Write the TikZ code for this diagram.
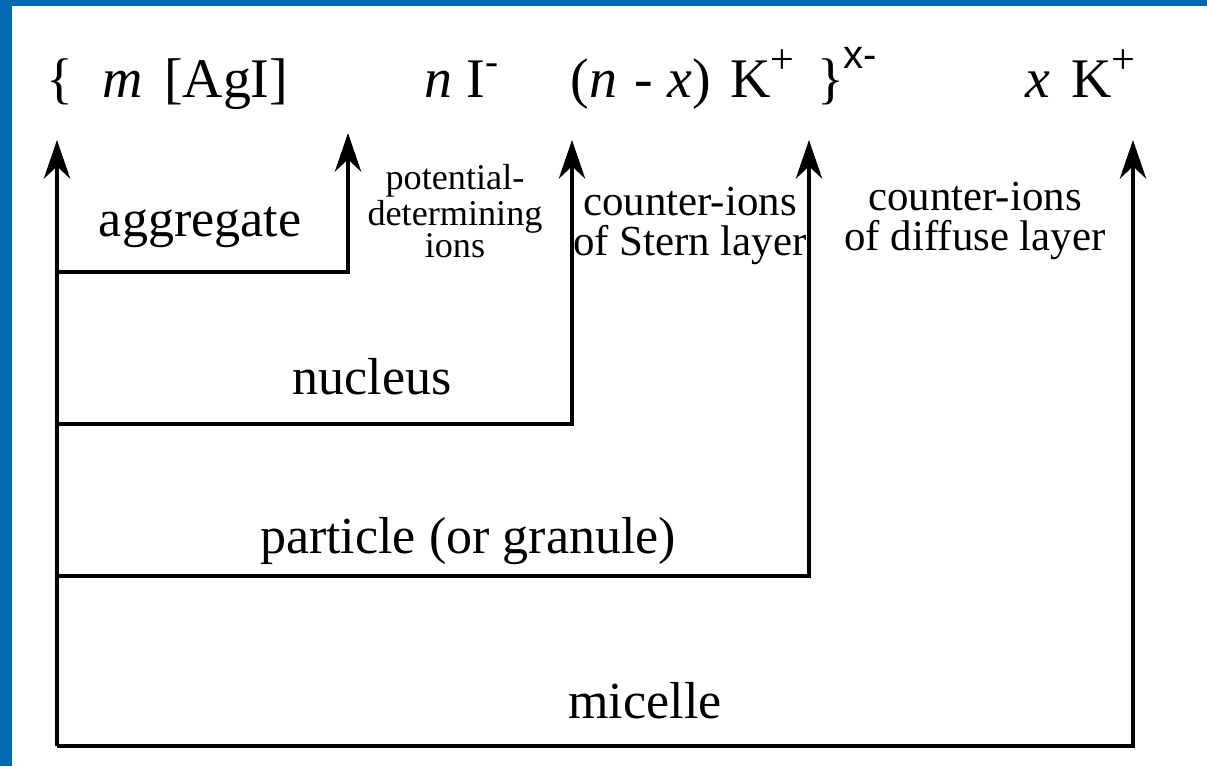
\documentclass[tikz,border=0pt]{standalone}
\usepackage{fontspec}
\setmainfont{Liberation Serif}
\newfontfamily\chargefont{Liberation Sans}
\definecolor{frameblue}{RGB}{0,105,178}
\usetikzlibrary{arrows.meta,positioning}
\newcommand{\ionch}[1]{\raisebox{6.8pt}{\fontsize{12}{12}\selectfont #1}}

\begin{document}
\begin{tikzpicture}[
      x=0.1mm, y=-0.1mm,
      formula/.style = {inner sep=0pt, anchor=base west, font=\fontsize{15.9}{18}\selectfont},
      part/.style    = {inner sep=0pt, anchor=base, font=\fontsize{14.8}{17}\selectfont},
      layer/.style   = {inner sep=0pt, align=center, font=\fontsize{12.2}{11.4}\selectfont},
      pdi/.style     = {inner sep=0pt, align=center, font=\fontsize{10.3}{9.1}\selectfont},
      arr/.style     = {-{Stealth[length=11pt,width=7.5pt,inset=3.5pt]}, line width=0.9pt},
    ]
    \useasboundingbox (0,0) rectangle (1207,766);
    \fill[frameblue] (0,0) rectangle (12,766);
    \fill[frameblue] (0,0) rectangle (1207,6);

    \node[formula] (lbr)   at (46,97)   {\{};
    \node[formula] (agi)   at (102,97)  {\textit{m}\hspace{2pt} [AgI]};
    \node[formula] (iod)   at (424,97)  {\textit{n} I\textsuperscript{-}};
    \node[formula] (stern) at (570,97)
        {(\textit{n}\hspace{5pt}-\hspace{4pt}\textit{x})\hspace{5.5pt}K\ionch{+}};
    \node[formula] (rbr)   at (817,97)  {\}};
    \node[formula, font=\chargefont\fontsize{11.4}{13}\selectfont]
                           (chg)   at (843,68)  {x-};
    \node[formula] (diff)  at (1025,97) {\textit{x}\hspace{6pt}K\ionch{+}};

    \node[part]  (aggr)  at (200,236) {aggregate};
    \node[pdi]   (pdis)  at (455,211) {potential-\\determining\\ions};
    \node[layer] (sions) at (690,226) {counter-ions\\of Stern layer};
    \node[layer] (dions) at (975,221) {counter-ions\\of diffuse layer};
    \node[part]  (nucl)  at (372,394) {nucleus};
    \node[part]  (part)  at (468,553) {particle (or granule)};
    \node[part]  (mic)   at (645,718) {micelle};

    \coordinate (base)    at (57,746);
    \coordinate (trunk)   at (57,140);
    \coordinate (agg-in)  at (57,272);
    \coordinate (nuc-in)  at (57,424);
    \coordinate (par-in)  at (57,576);
    \coordinate (agg-top) at (348,133);
    \coordinate (nuc-top) at (572,140);
    \coordinate (par-top) at (809,140);
    \coordinate (mic-top) at (1133,140);

    \draw[arr] (base)   -- (trunk);
    \draw[arr] (agg-in) -| (agg-top);
    \draw[arr] (nuc-in) -| (nuc-top);
    \draw[arr] (par-in) -| (par-top);
    \draw[arr] (base)   -| (mic-top);
  \end{tikzpicture}
\end{document}
